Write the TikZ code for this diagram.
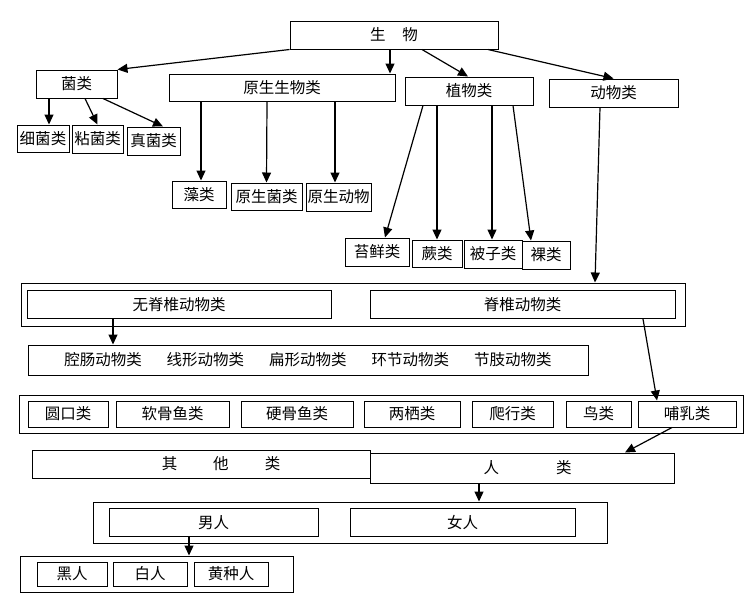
\documentclass[tikz,border=0pt]{standalone}
\usepackage{fontspec}
\newfontfamily\cjk{Noto Sans CJK SC}
\usetikzlibrary{arrows.meta}
\tikzset{
    box/.style n args={2}{
        draw,
        line width=1pt,
        inner sep=0pt,
        minimum width=#1pt,
        minimum height=#2pt,
        font=\cjk\fontsize{15.5}{15.5}\selectfont
    },
    frame/.style n args={2}{
        draw,
        line width=1pt,
        inner sep=0pt,
        minimum width=#1pt,
        minimum height=#2pt
    },
    every edge/.append style={
        draw,
        -{Triangle[length=10pt,width=9pt]},
        line width=1.2pt
    }
}

\begin{document}
\begin{tikzpicture}[x=1pt,y=-1pt]
                \useasboundingbox (0,0) rectangle (751,598);

                \node[box={208}{28}] (sw) at (394,35) {生\hspace{17pt}物};
                \node[box={81}{28}] (jun) at (76.5,84) {菌类};
                \node[box={226}{27}] (ys) at (282,87.5) {原生生物类};
                \node[box={128}{28}] (zw) at (469,91) {植物类};
                \node[box={129}{28}] (dw) at (613.5,93) {动物类};
                \node[box={52}{27}] (xj) at (43,138.5) {细菌类};
                \node[box={51}{28}] (nj) at (97.5,139) {粘菌类};
                \node[box={53}{28}] (zj) at (153.5,141) {真菌类};
                \node[box={54}{27}] (zao) at (199,194.5) {藻类};
                \node[box={71}{27}] (ysj) at (266.5,196.5) {原生菌类};
                \node[box={65}{28}] (ysd) at (338.5,197) {原生动物};
                \node[box={64}{28}] (tx) at (377,252) {苔鲜类};
                \node[box={50}{27}] (jue) at (437,253.5) {蕨类};
                \node[box={58}{28}] (bz) at (493,254) {被子类};
                \node[box={48}{28}] (luo) at (546,255) {裸类};

                \node[frame={664}{43}] (dwk) at (353,304.5) {};
                \node[box={304}{28}] (wjz) at (179,304.5) {无脊椎动物类};
                \node[box={305}{28}] (jz) at (522.5,304.5) {脊椎动物类};
                \node[box={560}{30}] (wj) at (308,360) {腔肠动物类\hspace{25pt}线形动物类\hspace{25pt}扁形动物类\hspace{25pt}环节动物类\hspace{25pt}节肢动物类};

                \node[frame={724}{38}] (jzk) at (381,414) {};
                \node[box={80}{26}] (yk) at (68,414) {圆口类};
                \node[box={113}{26}] (rg) at (172.5,414) {软骨鱼类};
                \node[box={112}{26}] (yg) at (297,414) {硬骨鱼类};
                \node[box={96}{26}] (lq) at (412,414) {两栖类};
                \node[box={81}{26}] (px) at (512.5,414) {爬行类};
                \node[box={65}{26}] (niao) at (598.5,414) {鸟类};
                \node[box={98}{26}] (br) at (687,414) {哺乳类};

                \node[box={338}{28}] (qt) at (201,464) {\hspace*{40pt}其\hspace{36pt}他\hspace{36pt}类};
                \node[box={304}{30}] (rl) at (522,468) {\hspace*{11pt}人\hspace{57pt}类};

                \node[frame={514}{41}] (rk) at (350,522.5) {};
                \node[box={209}{28}] (nan) at (213.5,522.5) {男人};
                \node[box={225}{28}] (nv) at (462.5,522.5) {女人};

                \node[frame={273}{36}] (nk) at (156.5,574) {};
                \node[box={70}{24}] (hei) at (72,574) {黑人};
                \node[box={74}{24}] (bai) at (150,574) {白人};
                \node[box={74}{24}] (huang) at (231,574) {黄种人};

                \draw (sw.south west) edge (jun.north east);
                \draw ([xshift=-4pt]sw.south) edge ([xshift=108pt]ys.north);
                \draw ([xshift=28pt]sw.south) edge ([xshift=-1pt]zw.north);
                \draw ([xshift=94pt]sw.south) edge (dw.north);
                \draw ([xshift=-27.5pt]jun.south) edge ([xshift=6pt]xj.north);
                \draw ([xshift=8.5pt]jun.south) edge (nj.north);
                \draw ([xshift=26.5pt]jun.south) edge ([xshift=9.5pt]zj.north);
                \draw ([xshift=-81pt]ys.south) edge ([xshift=2pt]zao.north);
                \draw ([xshift=-15pt]ys.south) edge (ysj.north);
                \draw ([xshift=53pt]ys.south) edge ([xshift=-3.5pt]ysd.north);
                \draw ([xshift=-46pt]zw.south) edge ([xshift=8pt]tx.north);
                \draw ([xshift=-32pt]zw.south) edge (jue.north);
                \draw ([xshift=23pt]zw.south) edge ([xshift=-1pt]bz.north);
                \draw ([xshift=44pt]zw.south) edge ([xshift=-15pt]luo.north);
                \draw ([xshift=-13.5pt]dw.south) edge ([xshift=242pt]dwk.north);
                \draw ([xshift=-66pt]wjz.south) edge ([xshift=-195pt]wj.north);
                \draw ([xshift=120.5pt]jz.south) edge ([xshift=-30pt]br.north);
                \draw ([xshift=-15pt]br.south) edge ([xshift=103pt]rl.north);
                \draw ([xshift=-43pt]rl.south) edge ([xshift=129pt]rk.north);
                \draw ([xshift=-24.5pt]nan.south) edge ([xshift=32.5pt]nk.north);
            \end{tikzpicture}
\end{document}
